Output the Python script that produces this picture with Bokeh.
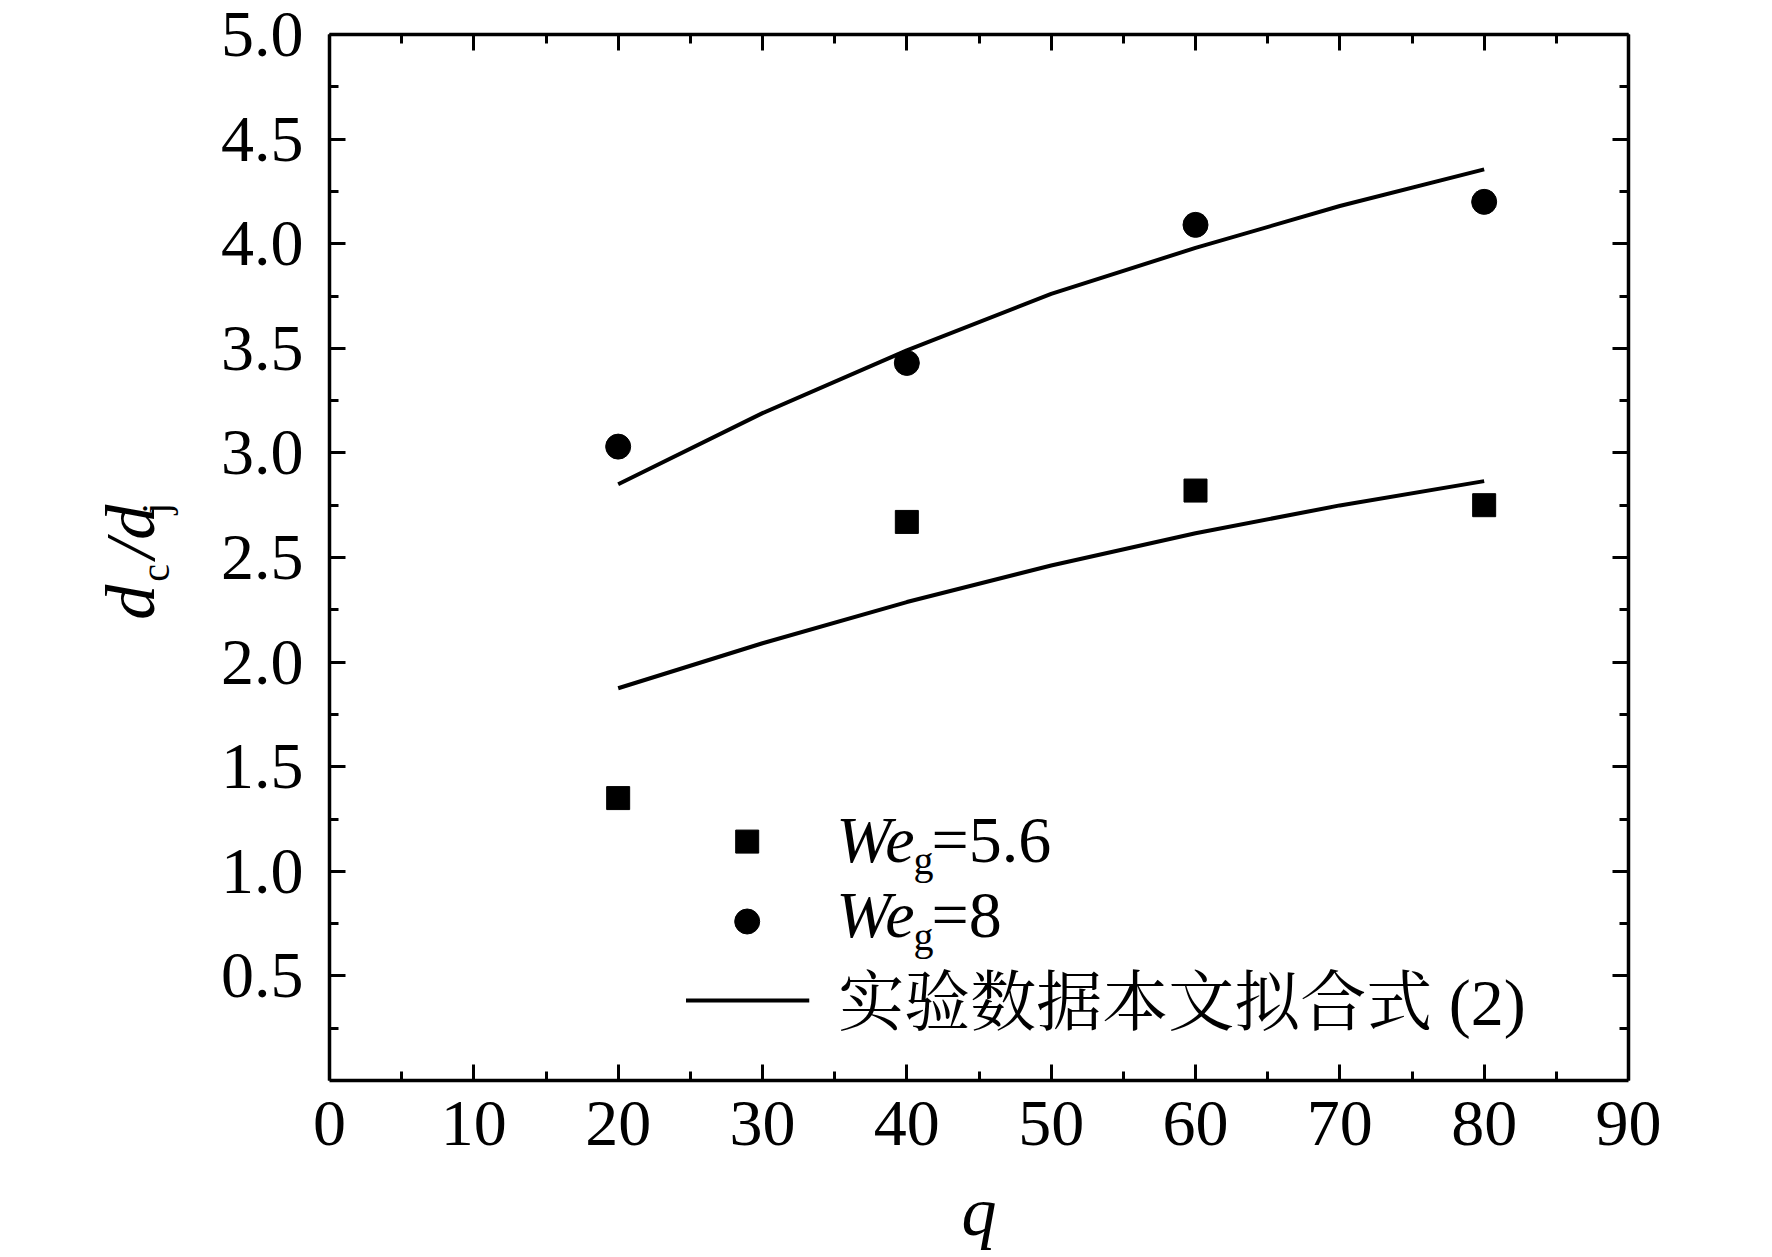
import math
from bokeh.plotting import figure
from bokeh.models import (Range1d, LinearAxis, FixedTicker, PrintfTickFormatter, Label,
                          CustomLabelingPolicy)
from bokeh.embed import file_html
from bokeh.resources import INLINE

# ---- data ----
q_points = [20, 40, 60, 80]
we56_vals = [1.35, 2.67, 2.82, 2.75]
we8_vals = [3.03, 3.43, 4.09, 4.20]

fit_q = [20, 30, 40, 50, 60, 70, 80]
fit_we56 = [1.875, 2.09, 2.287, 2.462, 2.616, 2.749, 2.865]
fit_we8 = [2.85, 3.19, 3.49, 3.76, 3.98, 4.18, 4.355]

x_ticks = [0, 10, 20, 30, 40, 50, 60, 70, 80, 90]
x_minor = [5, 15, 25, 35, 45, 55, 65, 75, 85]
y_ticks = [0.5, 1.0, 1.5, 2.0, 2.5, 3.0, 3.5, 4.0, 4.5, 5.0]
y_minor = [0.25, 0.75, 1.25, 1.75, 2.25, 2.75, 3.25, 3.75, 4.25, 4.75]

x_title = "q"
y_title_main = ["d", "/", "d"]   # d_c / d_j
y_title_sub = ["c", "j"]
legend_labels = ["=5.6", "=8", "实验数据本文拟合式 (2)"]

SERIF = "Liberation Serif"
CJK = "Liberation Serif, Noto Serif CJK SC, Noto Sans CJK SC"

p = figure(width=1750, height=1254, output_backend="svg", toolbar_location=None,
           x_range=Range1d(0, 90), y_range=Range1d(0, 5),
           x_axis_location=None, y_axis_location=None,
           min_border_left=329, min_border_right=122,
           min_border_top=34, min_border_bottom=174)
p.grid.visible = False
p.outline_line_color = None
p.background_fill_color = "white"
p.border_fill_color = "white"

hide_labels = CustomLabelingPolicy(code="""
try { for (const i of Array.from(indices)) { indices.unset(i) } } catch (e) {}
return indices
""")

def make_axis(is_x, labels):
    ax = LinearAxis()
    ax.ticker = FixedTicker(ticks=x_ticks if is_x else y_ticks,
                            minor_ticks=x_minor if is_x else y_minor)
    ax.formatter = PrintfTickFormatter(format="%d" if is_x else "%.1f")
    ax.axis_line_width = 3.5
    ax.axis_line_color = "black"
    ax.major_tick_line_width = 3
    ax.minor_tick_line_width = 3
    ax.major_tick_in = 16
    ax.major_tick_out = 0
    ax.minor_tick_in = 9
    ax.minor_tick_out = 0
    ax.major_label_text_font = SERIF
    ax.major_label_text_color = "black"
    if labels:
        ax.major_label_text_font_size = "66px"
        ax.major_label_standoff = 21 if is_x else 26
        ax.major_label_text_line_height = 0.9
    else:
        ax.major_label_policy = hide_labels
        ax.major_label_text_font_size = "1px"
        ax.major_label_standoff = 0
    return ax

x_axis = make_axis(True, True)
x_axis.axis_label = x_title
x_axis.axis_label_text_font = SERIF
x_axis.axis_label_text_font_style = "italic"
x_axis.axis_label_text_font_size = "70px"
x_axis.axis_label_text_color = "black"
x_axis.axis_label_standoff = 25
p.add_layout(x_axis, "below")
p.add_layout(make_axis(False, True), "left")
p.add_layout(make_axis(True, False), "above")
p.add_layout(make_axis(False, False), "right")

# y-axis title d_c/d_j built from tick labels of two unlined axes
def title_axis(ticks, texts, size, style, standoff):
    ax = LinearAxis()
    ax.ticker = FixedTicker(ticks=ticks, minor_ticks=[])
    ax.major_label_overrides = {t: s for t, s in zip(ticks, texts)}
    ax.major_label_orientation = "vertical"
    ax.major_label_text_font = SERIF
    ax.major_label_text_font_size = size
    ax.major_label_text_font_style = style
    ax.major_label_text_color = "black"
    ax.major_label_standoff = standoff
    ax.axis_line_color = None
    ax.major_tick_line_color = None
    ax.minor_tick_line_color = None
    ax.major_tick_in = 0
    ax.major_tick_out = 0
    return ax

p.add_layout(title_axis([2.427, 2.735], y_title_sub, "40px", "normal", 39), "left")
p.add_layout(title_axis([2.286, 2.54, 2.668], y_title_main, "70px", "italic", -39), "left")

# fit curves
p.line(fit_q, fit_we56, line_color="black", line_width=4)
p.line(fit_q, fit_we8, line_color="black", line_width=4)

# data points
p.scatter(q_points, we56_vals, marker="square", size=23, fill_color="black", line_color="black")
p.scatter(q_points, we8_vals, marker="circle", size=25, fill_color="black", line_color="black")

# ---- legend (drawn by hand to allow italic / subscript) ----
p.scatter([28.94], [1.142], marker="square", size=23, fill_color="black", line_color="black")
p.scatter([28.94], [0.760], marker="circle", size=25, fill_color="black", line_color="black")
p.line([24.70, 33.24], [0.382, 0.382], line_color="black", line_width=4)

def lab(x, y, text, size, style="normal", font=SERIF):
    p.add_layout(Label(x=x, y=y, text=text, text_font=font, text_font_size=size,
                       text_font_style=style, text_color="black",
                       text_align="left", text_baseline="alphabetic"))

lab(35.11, 1.150, "We", "66px", "italic")
lab(40.46, 1.051, "g", "40px")
lab(41.71, 1.150, legend_labels[0], "66px")
lab(35.11, 0.794, "We", "66px", "italic")
lab(40.46, 0.688, "g", "40px")
lab(41.71, 0.794, legend_labels[1], "66px")
lab(35.25, 0.373, legend_labels[2], "66px", font=CJK)

open("out.html", "w").write(file_html(p, INLINE))
